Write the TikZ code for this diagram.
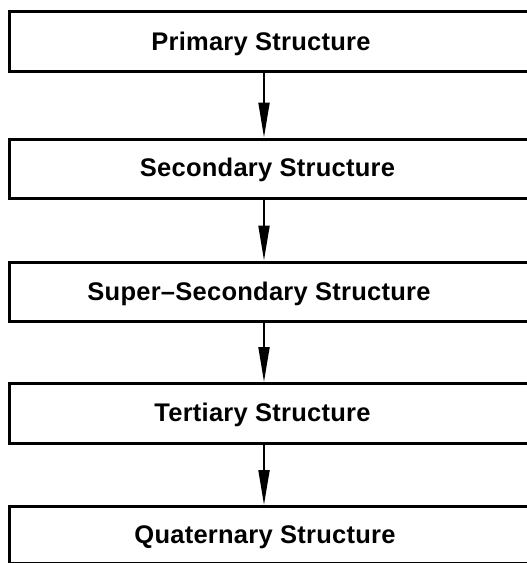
\documentclass[tikz,border=0pt]{standalone}
\usepackage{fontspec}
\newfontfamily\lblfont[LetterSpace=1]{Liberation Sans Bold}
\usetikzlibrary{arrows.meta}
\begin{document}
\begin{tikzpicture}[x=1pt,y=1pt,
  stagebox/.style={draw=black, line width=3pt, rectangle, minimum width=540pt, inner sep=0pt},
  stagetext/.style={anchor=base, font=\lblfont\fontsize{25.5}{29}\selectfont, inner sep=0pt},
  flow/.style={draw=black, line width=2pt, -{Triangle[length=35pt, width=11pt]}}]
  \useasboundingbox[fill=white] (0,0) rectangle (527,-563);
  \begin{scope}
  \clip (0,0) rectangle (527,-563);
  % frames (they run past the right edge)
  \node[stagebox, minimum height=60pt]   (b1) at (279,-41.5)  {};
  \node[stagebox, minimum height=59.5pt] (b2) at (279,-168.75) {};
  \node[stagebox, minimum height=59pt]   (b3) at (279,-291.5) {};
  \node[stagebox, minimum height=59.5pt] (b4) at (279,-413.25) {};
  \node[stagebox, minimum height=57pt]   (b5) at (279,-535)   {};
  % labels
  \node[stagetext] (t1) at (261,-50)    {Primary Structure};
  \node[stagetext] (t2) at (267.5,-176.8) {Secondary Structure};
  \node[stagetext] (t3) at (259,-300)   {Super–Secondary Structure};
  \node[stagetext] (t4) at (262.5,-421.5) {Tertiary Structure};
  \node[stagetext] (t5) at (265,-543)   {Quaternary Structure};
  % connectors
  \coordinate (ax) at (264,0);
  \draw[flow] (b1.south -| ax) -- (b2.north -| ax);
  \draw[flow] (b2.south -| ax) -- (b3.north -| ax);
  \draw[flow] (b3.south -| ax) -- (b4.north -| ax);
  \draw[flow] (b4.south -| ax) -- (b5.north -| ax);
  \end{scope}
\end{tikzpicture}
\end{document}
